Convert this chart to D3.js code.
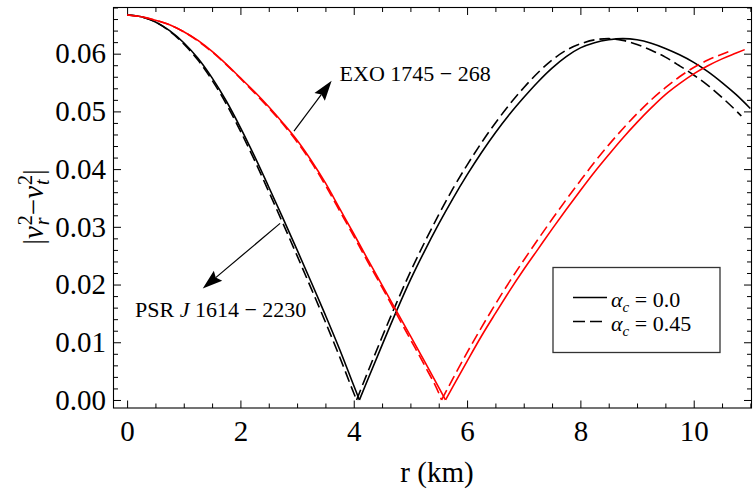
<!DOCTYPE html>
<html><head><meta charset="utf-8">
<script src="https://cdn.jsdelivr.net/npm/d3@7"></script>
<style>html,body{margin:0;padding:0;background:#fff;} svg{display:block;}</style>
</head><body>
<svg id="chart" width="754" height="493"></svg>
<script>
// ---------- data ----------
const xMajorTicks = [0, 2, 4, 6, 8, 10];
const yMajorTicks = [0, 0.01, 0.02, 0.03, 0.04, 0.05, 0.06];
const yTickLabels = ["0.00", "0.01", "0.02", "0.03", "0.04", "0.05", "0.06"];
const xTitle = "r (km)";

// PSR J1614-2230, alpha_c = 0.0 (black solid)
const rPsr0 = [0,0.25,0.5,0.75,1,1.25,1.5,1.75,2,2.25,2.5,2.75,3,3.25,3.5,3.75,4,4.1,
  4.25,4.5,4.75,5,5.25,5.5,5.75,6,6.25,6.5,6.75,7,7.25,7.5,7.75,8,8.25,8.5,8.75,9,9.25,9.5,9.75,10,10.25,10.5,10.75,11];
const vPsr0 = [0.0667,0.0664,0.0655,0.0640,0.0619,0.0592,0.0558,0.0518,0.0472,0.0422,0.0369,0.0315,0.0260,0.0204,0.0147,0.0088,0.0025,0,
  0.0036,0.0095,0.0153,0.0208,0.0258,0.0305,0.0349,0.0390,0.0428,0.0463,0.0495,0.0524,0.0551,0.0575,0.0595,0.0610,0.0619,0.0624,0.0626,0.0624,0.0618,0.0609,0.0598,0.0585,0.0569,0.0550,0.0529,0.0505];

// PSR J1614-2230, alpha_c = 0.45 (black dashed)
const rPsr45 = [0,0.25,0.5,0.75,1,1.25,1.5,1.75,2,2.25,2.5,2.75,3,3.25,3.5,3.75,4,4.05,
  4.25,4.5,4.75,5,5.25,5.5,5.75,6,6.25,6.5,6.75,7,7.25,7.5,7.75,8,8.25,8.5,8.75,9,9.25,9.5,9.75,10,10.25,10.5,10.75,10.84];
const vPsr45 = [0.0667,0.0664,0.0655,0.0639,0.0617,0.0589,0.0554,0.0513,0.0466,0.0415,0.0361,0.0306,0.0250,0.0193,0.0135,0.0075,0.0012,0,
  0.0049,0.0109,0.0167,0.0222,0.0273,0.0321,0.0366,0.0407,0.0445,0.0480,0.0512,0.0541,0.0567,0.0589,0.0606,0.0617,0.0624,0.0626,0.0623,0.0616,0.0606,0.0594,0.0579,0.0563,0.0545,0.0524,0.0501,0.0492];

// EXO 1745-268, alpha_c = 0.0 (red solid)
const rExo0 = [0,0.25,0.5,0.75,1,1.25,1.5,1.75,2,2.25,2.5,2.75,3,3.25,3.5,3.75,4,4.25,4.5,4.75,5,5.25,5.5,5.62,
  5.75,6,6.25,6.5,6.75,7,7.25,7.5,7.75,8,8.25,8.5,8.75,9,9.25,9.5,9.75,10,10.25,10.5,10.75,10.9];
const vExo0 = [0.0667,0.0664,0.0658,0.0650,0.0638,0.0623,0.0604,0.0582,0.0558,0.0534,0.0508,0.0480,0.0450,0.0415,0.0376,0.0332,0.0288,0.0243,0.0199,0.0155,0.0111,0.0067,0.0022,0,
  0.0023,0.0067,0.0110,0.0150,0.0189,0.0226,0.0261,0.0296,0.0330,0.0363,0.0395,0.0425,0.0454,0.0481,0.0506,0.0529,0.0548,0.0565,0.0579,0.0591,0.0601,0.0607];

// EXO 1745-268, alpha_c = 0.45 (red dashed)
const rExo45 = [0,0.25,0.5,0.75,1,1.25,1.5,1.75,2,2.25,2.5,2.75,3,3.25,3.5,3.75,4,4.25,4.5,4.75,5,5.25,5.5,5.55,
  5.75,6,6.25,6.5,6.75,7,7.25,7.5,7.75,8,8.25,8.5,8.75,9,9.25,9.5,9.75,10,10.25,10.5,10.69];
const vExo45 = [0.0667,0.0664,0.0658,0.0650,0.0638,0.0622,0.0603,0.0581,0.0557,0.0532,0.0506,0.0478,0.0447,0.0412,0.0372,0.0328,0.0284,0.0239,0.0195,0.0150,0.0105,0.0060,0.0012,0,
  0.0037,0.0082,0.0125,0.0166,0.0205,0.0242,0.0278,0.0313,0.0347,0.0380,0.0412,0.0442,0.0470,0.0496,0.0520,0.0541,0.0560,0.0576,0.0589,0.0599,0.0606];

const legendValues = ["0.0", "0.45"];
const exoLabel = "EXO 1745 \u2212 268";
const psrLabelParts = ["PSR ", "J", " 1614 \u2212 2230"];
// annotation anchors in data units (r, v)
const exoArrowR = [2.945, 3.61], exoArrowV = [0.0466, 0.0553];
const exoTextR = 3.75, exoTextV = 0.0553;
const psrArrowR = [2.70, 1.335], psrArrowV = [0.0306, 0.0193];
const psrTextR = 0.14, psrTextV = 0.0144;

// ---------- drawing ----------
const FONT = "'Liberation Serif','Times New Roman',Times,serif";
const svg = d3.select("#chart").style("font-family", FONT);
const L = 113.5, R = 751.5, T = 7.5, B = 408;
const x = d3.scaleLinear().domain([-0.24, 11.02]).range([L, R]);
const y = d3.scaleLinear().domain([-0.00139, 0.068]).range([B, T]);

const xMinor = d3.range(0, 11.01, 0.5).filter(d => !xMajorTicks.includes(d));
const yMinor = d3.range(0, 0.0681, 0.002).map(d => +d.toFixed(3)).filter(d => Math.round(d*1000) % 10 !== 0);

svg.append("defs").append("clipPath").attr("id","clip")
  .append("rect").attr("x", L).attr("y", T).attr("width", R-L).attr("height", B-T);

function styleAxis(g){ g.select(".domain").remove(); g.selectAll("line").attr("stroke","#000").attr("stroke-width",1); }

// bottom
svg.append("g").attr("transform",`translate(0,${B})`)
  .call(d3.axisBottom(x).tickValues(xMajorTicks).tickSize(-7.5).tickPadding(12.5).tickFormat(d3.format("d")))
  .call(styleAxis).call(g => g.selectAll("text").style("font-size","29px").style("font-family",FONT).attr("fill","#000"));
svg.append("g").attr("transform",`translate(0,${B})`)
  .call(d3.axisBottom(x).tickValues(xMinor).tickSize(-4.5).tickFormat(() => "")).call(styleAxis);
// top
svg.append("g").attr("transform",`translate(0,${T})`)
  .call(d3.axisTop(x).tickValues(xMajorTicks).tickSize(-7.5).tickFormat(() => "")).call(styleAxis);
svg.append("g").attr("transform",`translate(0,${T})`)
  .call(d3.axisTop(x).tickValues(xMinor).tickSize(-4.5).tickFormat(() => "")).call(styleAxis);
// left
svg.append("g").attr("transform",`translate(${L},0)`)
  .call(d3.axisLeft(y).tickValues(yMajorTicks).tickSize(-7.5).tickPadding(7.5).tickFormat((d,i) => yTickLabels[i]))
  .call(styleAxis).call(g => g.selectAll("text").style("font-size","29px").style("font-family",FONT).attr("fill","#000"));
svg.append("g").attr("transform",`translate(${L},0)`)
  .call(d3.axisLeft(y).tickValues(yMinor).tickSize(-4.5).tickFormat(() => "")).call(styleAxis);
// right
svg.append("g").attr("transform",`translate(${R},0)`)
  .call(d3.axisRight(y).tickValues(yMajorTicks).tickSize(-7.5).tickFormat(() => "")).call(styleAxis);
svg.append("g").attr("transform",`translate(${R},0)`)
  .call(d3.axisRight(y).tickValues(yMinor).tickSize(-4.5).tickFormat(() => "")).call(styleAxis);

// frame
svg.append("rect").attr("x",L).attr("y",T).attr("width",R-L).attr("height",B-T)
  .attr("fill","none").attr("stroke","#000").attr("stroke-width",1.1);

// curves
const line = d3.line().x(d => x(d[0])).y(d => y(d[1])).curve(d3.curveMonotoneX);
function drawSeries(rs, vs, color, dash){
  const pts = rs.map((r,i) => [r, vs[i]]);
  const iz = vs.indexOf(0);
  const branches = [pts.slice(0, iz+1), pts.slice(iz)];
  branches.forEach(b => {
    svg.append("path").attr("clip-path","url(#clip)").attr("d", line(b))
      .attr("fill","none").attr("stroke", color).attr("stroke-width",1.6)
      .attr("stroke-dasharray", dash ? "11,5" : null);
  });
}
drawSeries(rPsr0, vPsr0, "#000", false);
drawSeries(rPsr45, vPsr45, "#000", true);
drawSeries(rExo0, vExo0, "#ff0000", false);
drawSeries(rExo45, vExo45, "#ff0000", true);

// measurement helper
function textWidth(str, size, italic){
  const t = svg.append("text").style("font-size", size+"px").style("font-style", italic?"italic":"normal").text(str);
  const w = t.node().getComputedTextLength(); t.remove(); return w;
}

// axis titles
svg.append("text").attr("x", 437).attr("y", 482).attr("text-anchor","middle")
  .style("font-size","29px").text(xTitle);

(function(){
  const fs = 29, ss = 20;
  const w2 = textWidth("2", ss, false);
  const t = svg.append("text").attr("transform","translate(43,207) rotate(-90)")
    .attr("text-anchor","middle").style("font-size", fs+"px");
  function nuBlock(sub){
    t.append("tspan").style("font-style","italic").text("\u03bd");
    t.append("tspan").style("font-size", ss+"px").attr("dy", -11).attr("dx", 1).text("2");
    const ws = textWidth(sub, ss, true);
    t.append("tspan").style("font-size", ss+"px").style("font-style","italic").attr("dx", -w2).attr("dy", 17).text(sub);
    return Math.max(0, w2 - ws);
  }
  t.append("tspan").text("|");
  let extra = nuBlock("r");
  t.append("tspan").attr("dy", -6).attr("dx", extra).text("\u2212");
  extra = nuBlock("t");
  t.append("tspan").attr("dy", -6).attr("dx", extra).text("|");
})();

// annotations
function arrow(rs, vs){
  const x0 = x(rs[0]), y0 = y(vs[0]), x1 = x(rs[1]), y1 = y(vs[1]);
  const dx = x1-x0, dy = y1-y0, len = Math.hypot(dx,dy), ux = dx/len, uy = dy/len;
  const Lh = 20, Wh = 6.5, px = -uy, py = ux;
  const bx = x1 - ux*Lh, by = y1 - uy*Lh;
  svg.append("line").attr("x1",x0).attr("y1",y0).attr("x2",bx+ux*3).attr("y2",by+uy*3)
    .attr("stroke","#000").attr("stroke-width",1.2);
  const pts = [[x1,y1],[bx+px*Wh,by+py*Wh],[bx+ux*3,by+uy*3],[bx-px*Wh,by-py*Wh]];
  svg.append("polygon").attr("points", pts.map(p => p.join(",")).join(" ")).attr("fill","#000");
}
arrow(exoArrowR, exoArrowV);
arrow(psrArrowR, psrArrowV);

svg.append("text").attr("x", x(exoTextR)).attr("y", y(exoTextV)).style("font-size","22px").text(exoLabel);
const psrT = svg.append("text").attr("x", x(psrTextR)).attr("y", y(psrTextV)).style("font-size","22px");
psrLabelParts.forEach((p,i) => psrT.append("tspan").style("font-style", i===1 ? "italic":"normal").text(p));

// legend
const lg = svg.append("g");
lg.append("rect").attr("x",553).attr("y",267.5).attr("width",167).attr("height",85)
  .attr("fill","#fff").attr("stroke","#333").attr("stroke-width",1.3);
legendValues.forEach((val,i) => {
  const ly = 297.5 + i*24;
  lg.append("line").attr("x1",573).attr("x2",607).attr("y1",ly).attr("y2",ly)
    .attr("stroke","#000").attr("stroke-width",1.3).attr("stroke-dasharray", i===1 ? "12,5" : null);
  const t = lg.append("text").attr("x",611).attr("y",ly+9).style("font-size","22px");
  t.append("tspan").style("font-style","italic").text("\u03b1");
  t.append("tspan").style("font-style","italic").style("font-size","15px").attr("dy",5).text("c");
  t.append("tspan").attr("dy",-5).text(" = " + val);
});
</script>
</body></html>
